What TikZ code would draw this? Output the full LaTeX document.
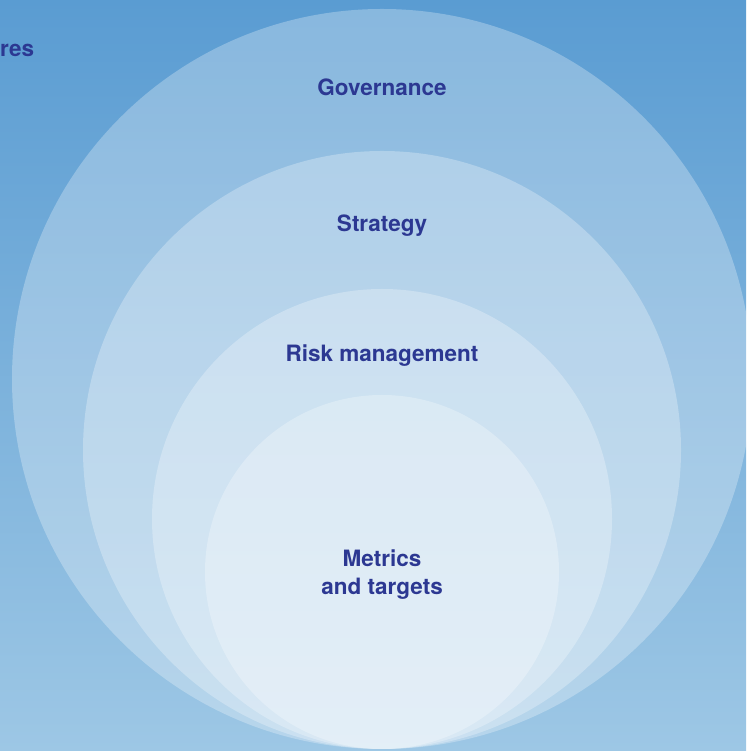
\documentclass[tikz,border=0pt]{standalone}
\usepackage{fontspec}
\setmainfont{TeX Gyre Heros}
\definecolor{bgtop}{RGB}{90,156,210}
\definecolor{bgbot}{RGB}{157,199,229}
\definecolor{ink}{RGB}{44,56,146}
\begin{document}
\begin{tikzpicture}[x=1pt,y=1pt,
  ring/.style={fill=white,fill opacity=0.28},
  lbl/.style={text=ink,font=\bfseries\fontsize{22.5}{28}\selectfont,anchor=base,align=center}]
\useasboundingbox (0,0) rectangle (746,751);
\shade[top color=bgtop,bottom color=bgbot] (0,0) rectangle (746,751);

% nested circles, all touching at the bottom
\fill[ring] (382,372) circle (370pt);
\fill[ring] (382,301) circle (299pt);
\fill[ring] (382,232) circle (230pt);
\fill[ring] (382,179) circle (177pt);

\node[lbl,anchor=base west,inner sep=0pt] (cut) at (0,694) {res};
\node[lbl] (gov) at (382,655) {Governance};
\node[lbl] (strat) at (382,519) {Strategy};
\node[lbl] (risk) at (382,389) {Risk management};
% two lines: base is the last line
\node[lbl] (metr) at (382,156) {Metrics\\and targets};
\end{tikzpicture}
\end{document}
